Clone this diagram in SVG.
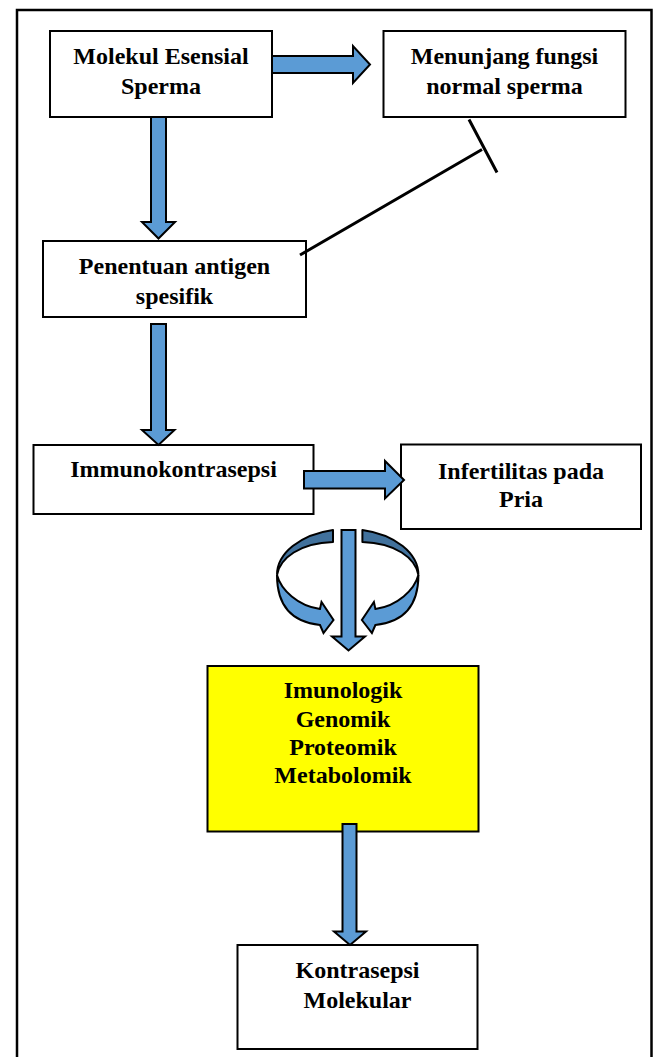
<svg xmlns="http://www.w3.org/2000/svg" xmlns:xlink="http://www.w3.org/1999/xlink" width="656" height="1057" viewBox="0 0 656 1057">
<style>
.box{fill:#ffffff;stroke:#000000;stroke-width:2}
.yel{fill:#ffff00;stroke:#000000;stroke-width:2}
.t{font-family:"Liberation Serif","Times New Roman",serif;font-weight:bold;font-size:24px;fill:#000000;text-anchor:middle}
.arr{fill:#5b9bd5;stroke:#000000;stroke-width:2;stroke-linejoin:miter}
.back{fill:#41719c;stroke:#000000;stroke-width:2;stroke-linejoin:round}
.inh{fill:none;stroke:#000000;stroke-width:3}
</style>
<defs>
<g id="ringLeft">
<path class="back" d="M333,530 A71,46 0 0 0 277,575 C280,558 300,543 333,542 Z"/>
<path class="arr" d="M277,575 C281,590 298,606 320,609 L321.5,602 L333.5,620 L323.5,633 L320,625 C291,622 277,605 277,575 Z"/>
</g>
</defs>
<rect id="frame" x="17" y="10" width="634.5" height="1060" fill="none" stroke="#000000" stroke-width="2.5"/>
<g id="node-molekul">
<rect class="box" x="50" y="31" width="222" height="86"/>
<text class="t" x="161" y="64">Molekul Esensial</text>
<text class="t" x="161" y="94">Sperma</text>
</g>
<g id="node-menunjang">
<rect class="box" x="383.5" y="31" width="242" height="86"/>
<text class="t" x="504.5" y="64">Menunjang fungsi</text>
<text class="t" x="504.5" y="94">normal sperma</text>
</g>
<g id="node-penentuan">
<rect class="box" x="43" y="241" width="263" height="76"/>
<text class="t" x="174.5" y="274">Penentuan antigen</text>
<text class="t" x="174.5" y="304">spesifik</text>
</g>
<g id="node-immuno">
<rect class="box" x="33.5" y="445" width="280" height="69"/>
<text class="t" x="173.5" y="477">Immunokontrasepsi</text>
</g>
<g id="node-infertilitas">
<rect class="box" x="401" y="444.5" width="240" height="84.5"/>
<text class="t" x="521" y="479">Infertilitas pada</text>
<text class="t" x="521" y="507">Pria</text>
</g>
<g id="node-omik">
<rect class="yel" x="207.5" y="666" width="271" height="165.5"/>
<text class="t" x="343" y="698">Imunologik</text>
<text class="t" x="343" y="727">Genomik</text>
<text class="t" x="343" y="755">Proteomik</text>
<text class="t" x="343" y="783">Metabolomik</text>
</g>
<g id="node-kontrasepsi">
<rect class="box" x="237.5" y="945" width="240" height="104"/>
<text class="t" x="357.5" y="978">Kontrasepsi</text>
<text class="t" x="357.5" y="1008">Molekular</text>
</g>
<g id="connectors">
<path class="arr" d="M272,56 L353,56 L353,46 L370,64.5 L353,83 L353,73 L272,73 Z"/>
<path class="arr" d="M151,117 L166,117 L166,222 L175,222 L158.5,238.5 L142,222 L151,222 Z"/>
<path class="inh" d="M300,255 L482,149.5 M469,119.5 L497,172.5"/>
<path class="arr" d="M151,324 L166,324 L166,430 L174.5,430 L158.5,445 L142,430 L151,430 Z"/>
<path class="arr" d="M304,471 L385,471 L385,461 L404,480 L385,498.5 L385,488.5 L304,488.5 Z"/>
<use xlink:href="#ringLeft"/>
<use xlink:href="#ringLeft" transform="matrix(-1 0 0 1 695.4 0)"/>
<path class="arr" d="M341.5,530 L355.5,530 L355.5,636.5 L365,636.5 L348.5,650.5 L332,636.5 L341.5,636.5 Z"/>
<path class="arr" d="M342.5,824 L356.5,824 L356.5,931.5 L366,931.5 L350,945 L334,931.5 L342.5,931.5 Z"/>
</g>
</svg>
